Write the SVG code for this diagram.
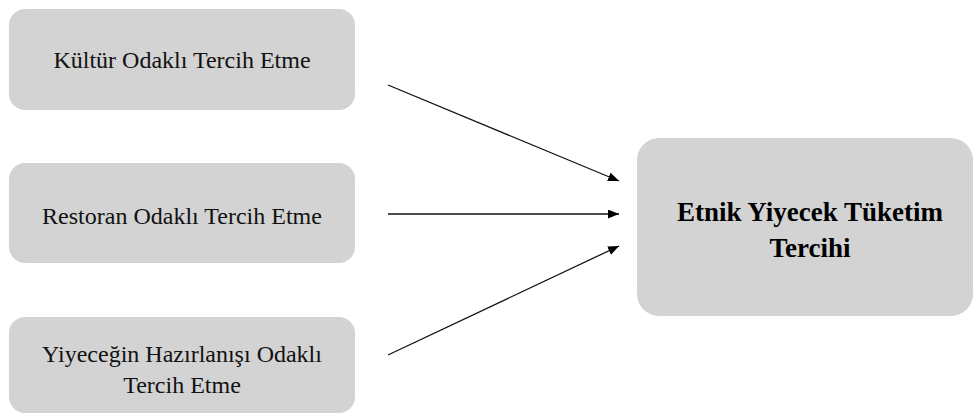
<svg xmlns="http://www.w3.org/2000/svg" width="974" height="415" viewBox="0 0 974 415">
  <style>
    .box { fill: #d3d3d3; stroke: none; }
    .lbl { font-family: 'Liberation Serif', 'Times New Roman', serif; font-size: 24px; fill: #111; text-anchor: middle; }
    .main { font-family: 'Liberation Serif', 'Times New Roman', serif; font-size: 27px; font-weight: bold; fill: #000; text-anchor: middle; }
    .edge { stroke: #111; stroke-width: 1.3; fill: none; marker-end: url(#head); }
  </style>
  <defs>
    <marker id="head" markerWidth="12" markerHeight="10" refX="11" refY="4.5" orient="auto" markerUnits="userSpaceOnUse">
      <path d="M0,0 L11,4.5 L0,9 Z" fill="#000"/>
    </marker>
  </defs>
  <rect width="974" height="415" fill="#ffffff"/>

  <g id="kultur">
    <rect class="box" x="9" y="9" width="346" height="101" rx="16"/>
    <text class="lbl" x="182" y="68">Kültür Odaklı Tercih Etme</text>
  </g>

  <g id="restoran">
    <rect class="box" x="9" y="163" width="346" height="100" rx="16"/>
    <text class="lbl" x="182" y="224">Restoran Odaklı Tercih Etme</text>
  </g>

  <g id="hazirlanis">
    <rect class="box" x="9" y="317" width="346" height="96" rx="16"/>
    <text class="lbl" x="182" y="362">Yiyeceğin Hazırlanışı Odaklı</text>
    <text class="lbl" x="182" y="393">Tercih Etme</text>
  </g>

  <g id="tercih">
    <rect class="box" x="637" y="138" width="336" height="178" rx="22"/>
    <text class="main" x="810" y="221">Etnik Yiyecek Tüketim</text>
    <text class="main" x="810" y="257">Tercihi</text>
  </g>

  <g id="connectors">
    <line class="edge" x1="388" y1="85" x2="619" y2="181"/>
    <line class="edge" x1="388" y1="214" x2="619" y2="214"/>
    <line class="edge" x1="388" y1="355" x2="619" y2="246"/>
  </g>
</svg>
